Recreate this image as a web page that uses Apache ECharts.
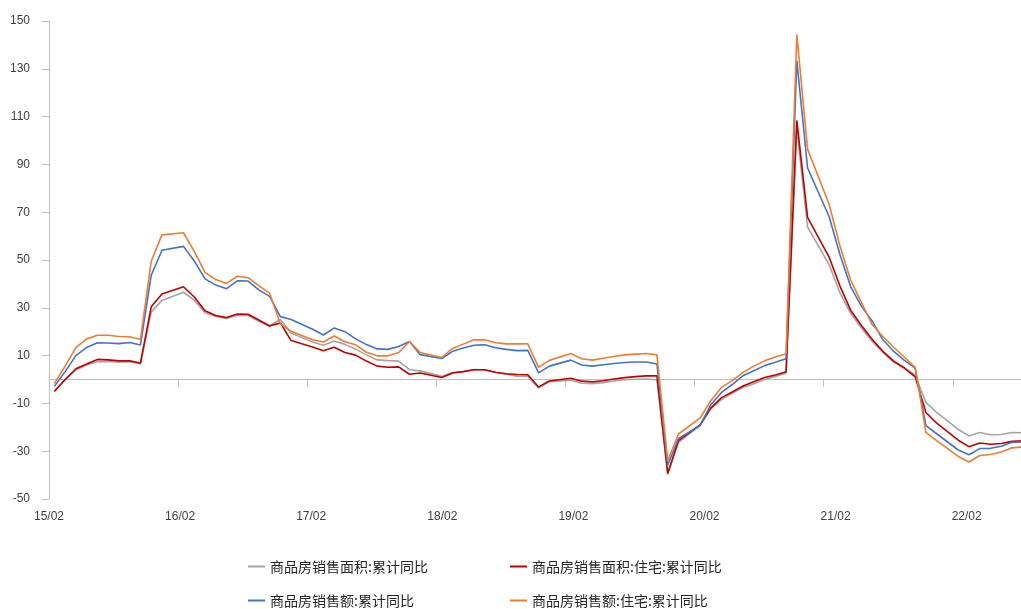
<!DOCTYPE html>
<html>
<head>
<meta charset="utf-8">
<script src="https://cdn.jsdelivr.net/npm/echarts@6/dist/echarts.min.js"></script>
<style>
  html, body { margin: 0; padding: 0; background: #fff; overflow: hidden; }
  /* a bit wider than the window: the source's plot runs past the right edge */
  #chart { width: 1032px; height: 609px; }
</style>
</head>
<body>
<div id="chart"></div>
<script>
// one slot per month on the source's date axis; '' marks the empty slot the source leaves each spring
const months = [
  '15/04','15/05','15/06','15/07','15/08','15/09','15/10','15/11','15/12',
  '16/02','16/03','','16/04','16/05','16/06','16/07','16/08','16/09','16/10','16/11','16/12',
  '17/02','17/03','','17/04','17/05','17/06','17/07','17/08','17/09','17/10','17/11','17/12',
  '18/02','18/03','','18/04','18/05','18/06','18/07','18/08','18/09','18/10','18/11','18/12',
  '19/02','19/03','','19/04','19/05','19/06','19/07','19/08','19/09','19/10','19/11','19/12',
  '20/02','20/03','','20/04','20/05','20/06','20/07','20/08','20/09','20/10','20/11','20/12',
  '21/02','21/03','','21/04','21/05','21/06','21/07','21/08','21/09','21/10','21/11','21/12',
  '22/02','22/03','','22/04','22/05','22/06','22/07','22/08','22/09','22/10'
];
const tickLabels = ['15/02','16/02','17/02','18/02','19/02','20/02','21/02','22/02'];

const areaYoy = [
  -4.6, -0.2, 4.0, 6.1, 7.4, 7.5, 7.2, 7.4, 6.5,
  28.2, 33.1, null, 36.5, 33.2, 27.9, 26.4, 25.5, 26.9, 26.8, 24.3, 22.5,
  25.1, 19.5, null, 15.7, 14.3, 16.1, 14.7, 12.7, 10.3, 8.2, 7.9, 7.7,
  4.1, 3.6, null, 1.3, 2.9, 3.3, 4.2, 4.0, 2.9, 2.2, 1.4, 1.3,
  -3.6, -0.9, null, -0.3, -1.6, -1.8, -1.3, -0.6, -0.1, 0.1, 0.2, -0.1,
  -39.9, -26.3, null, -19.3, -12.3, -8.4, -5.8, -3.3, -1.8, 0.0, 1.3, 2.6,
  104.9, 63.8, null, 48.1, 36.3, 27.7, 21.5, 15.9, 11.3, 7.3, 4.8, 1.9,
  -9.6, -13.8, null, -20.9, -23.6, -22.2, -23.1, -23.0, -22.2, -22.3
];
const houseAreaYoy = [
  -5.0, 0.0, 4.5, 6.5, 8.4, 8.2, 7.8, 7.8, 6.9,
  30.4, 35.8, null, 38.8, 34.5, 28.8, 26.8, 25.9, 27.4, 27.3, 24.9, 22.4,
  23.7, 16.3, null, 13.6, 12.0, 13.5, 11.3, 10.2, 7.7, 5.6, 5.1, 5.3,
  2.2, 2.7, null, 0.8, 2.7, 3.3, 4.1, 4.1, 3.0, 2.4, 2.1, 2.0,
  -3.1, -0.6, null, 0.5, -0.7, -1.0, -0.5, 0.2, 0.8, 1.2, 1.5, 1.5,
  -39.2, -25.6, null, -19.0, -12.0, -7.6, -5.2, -2.7, -0.9, 0.8, 1.9, 3.2,
  108.4, 67.8, null, 51.2, 39.2, 29.0, 22.6, 16.8, 11.8, 7.7, 4.8, 1.1,
  -13.8, -18.3, null, -25.4, -28.1, -26.6, -27.1, -26.8, -25.9, -25.7
];
const salesYoy = [
  -2.8, 3.3, 10.0, 13.4, 15.4, 15.3, 15.0, 15.5, 14.4,
  43.6, 54.1, null, 55.7, 49.6, 42.1, 39.5, 38.0, 41.3, 41.2, 37.5, 34.8,
  26.3, 25.1, null, 21.0, 18.6, 21.5, 20.0, 17.0, 14.6, 12.8, 12.6, 13.8,
  15.9, 10.4, null, 8.8, 11.8, 13.2, 14.3, 14.5, 13.3, 12.6, 12.1, 12.2,
  2.8, 5.6, null, 8.1, 6.1, 5.6, 6.2, 6.7, 7.1, 7.3, 7.3, 6.5,
  -35.9, -24.7, null, -19.3, -10.6, -5.4, -2.1, 1.6, 3.7, 5.8, 7.2, 8.7,
  133.4, 88.5, null, 68.2, 52.4, 38.9, 30.7, 24.5, 16.6, 11.8, 8.0, 4.8,
  -19.3, -22.7, null, -29.5, -31.5, -28.9, -28.8, -27.9, -26.3, -26.1
];
const houseSalesYoy = [
  -1.6, 5.6, 13.3, 17.0, 18.5, 18.5, 18.0, 17.9, 16.7,
  49.5, 60.5, null, 61.4, 53.6, 44.8, 41.8, 40.2, 43.2, 42.6, 39.3, 36.1,
  23.3, 20.2, null, 16.6, 15.7, 18.2, 15.8, 14.5, 11.4, 9.9, 9.9, 11.3,
  15.9, 11.3, null, 9.2, 13.0, 14.8, 16.6, 16.6, 15.4, 14.9, 14.9, 14.9,
  5.1, 8.0, null, 10.9, 8.7, 8.1, 8.9, 9.6, 10.3, 10.6, 10.9, 10.3,
  -34.0, -22.8, null, -16.2, -8.9, -3.3, -0.5, 3.0, 5.6, 7.8, 9.4, 10.8,
  144.3, 96.4, null, 73.3, 56.0, 41.6, 32.3, 23.0, 18.0, 13.5, 9.3, 5.1,
  -22.1, -25.6, null, -32.2, -34.5, -31.8, -31.4, -30.3, -28.6, -28.2
];

const names = [
  '商品房销售面积:累计同比',
  '商品房销售面积:住宅:累计同比',
  '商品房销售额:累计同比',
  '商品房销售额:住宅:累计同比'
];
const colors = ['#a5a5a5', '#c00000', '#4472c4', '#ed7d31'];
const seriesData = [areaYoy, houseAreaYoy, salesYoy, houseSalesYoy];

const slotWidth = 10.76;
const gridWidth = months.length * slotWidth;
const labelStep = 131.1;

const chart = echarts.init(document.getElementById('chart'));
chart.setOption({
  animation: false,
  backgroundColor: '#fff',
  grid: { left: 49, top: 21, width: gridWidth, height: 478 },
  legend: {
    left: 243,
    top: 552,
    width: 530,
    icon: 'rect',
    itemWidth: 17,
    itemHeight: 2,
    itemGap: 15,
    textStyle: {
      fontFamily: 'Noto Sans CJK SC',
      fontSize: 14,
      color: '#262626',
      width: 225,
      lineHeight: 19
    },
    data: names
  },
  xAxis: [
    {
      type: 'category',
      data: months,
      boundaryGap: true,
      axisLine: { onZero: true, lineStyle: { color: '#bfbfbf', width: 1 } },
      axisTick: { show: true, interval: 11, length: 7, lineStyle: { color: '#bfbfbf' } },
      axisLabel: { show: false },
      splitLine: { show: false }
    },
    {
      type: 'value',
      position: 'bottom',
      min: 0,
      max: gridWidth / labelStep,
      interval: 1,
      axisLine: { show: false, onZero: false },
      axisTick: { show: false },
      splitLine: { show: false },
      axisLabel: {
        fontFamily: 'Liberation Sans',
        fontSize: 12,
        color: '#404040',
        margin: 12,
        showMaxLabel: false,
        formatter: v => tickLabels[v] || ''
      }
    }
  ],
  yAxis: {
    type: 'value',
    min: -50,
    max: 150,
    interval: 20,
    axisLine: { show: true, onZero: false, lineStyle: { color: '#bfbfbf' } },
    axisTick: { show: true, length: 7, lineStyle: { color: '#bfbfbf' } },
    splitLine: { show: false },
    axisLabel: { fontFamily: 'Liberation Sans', fontSize: 12, color: '#404040', margin: 19 }
  },
  series: names.map((name, i) => ({
    name: name,
    type: 'line',
    data: seriesData[i],
    connectNulls: true,
    showSymbol: false,
    symbol: 'none',
    color: colors[i],
    lineStyle: { width: 1.6, color: colors[i] }
  }))
});
</script>
</body>
</html>
